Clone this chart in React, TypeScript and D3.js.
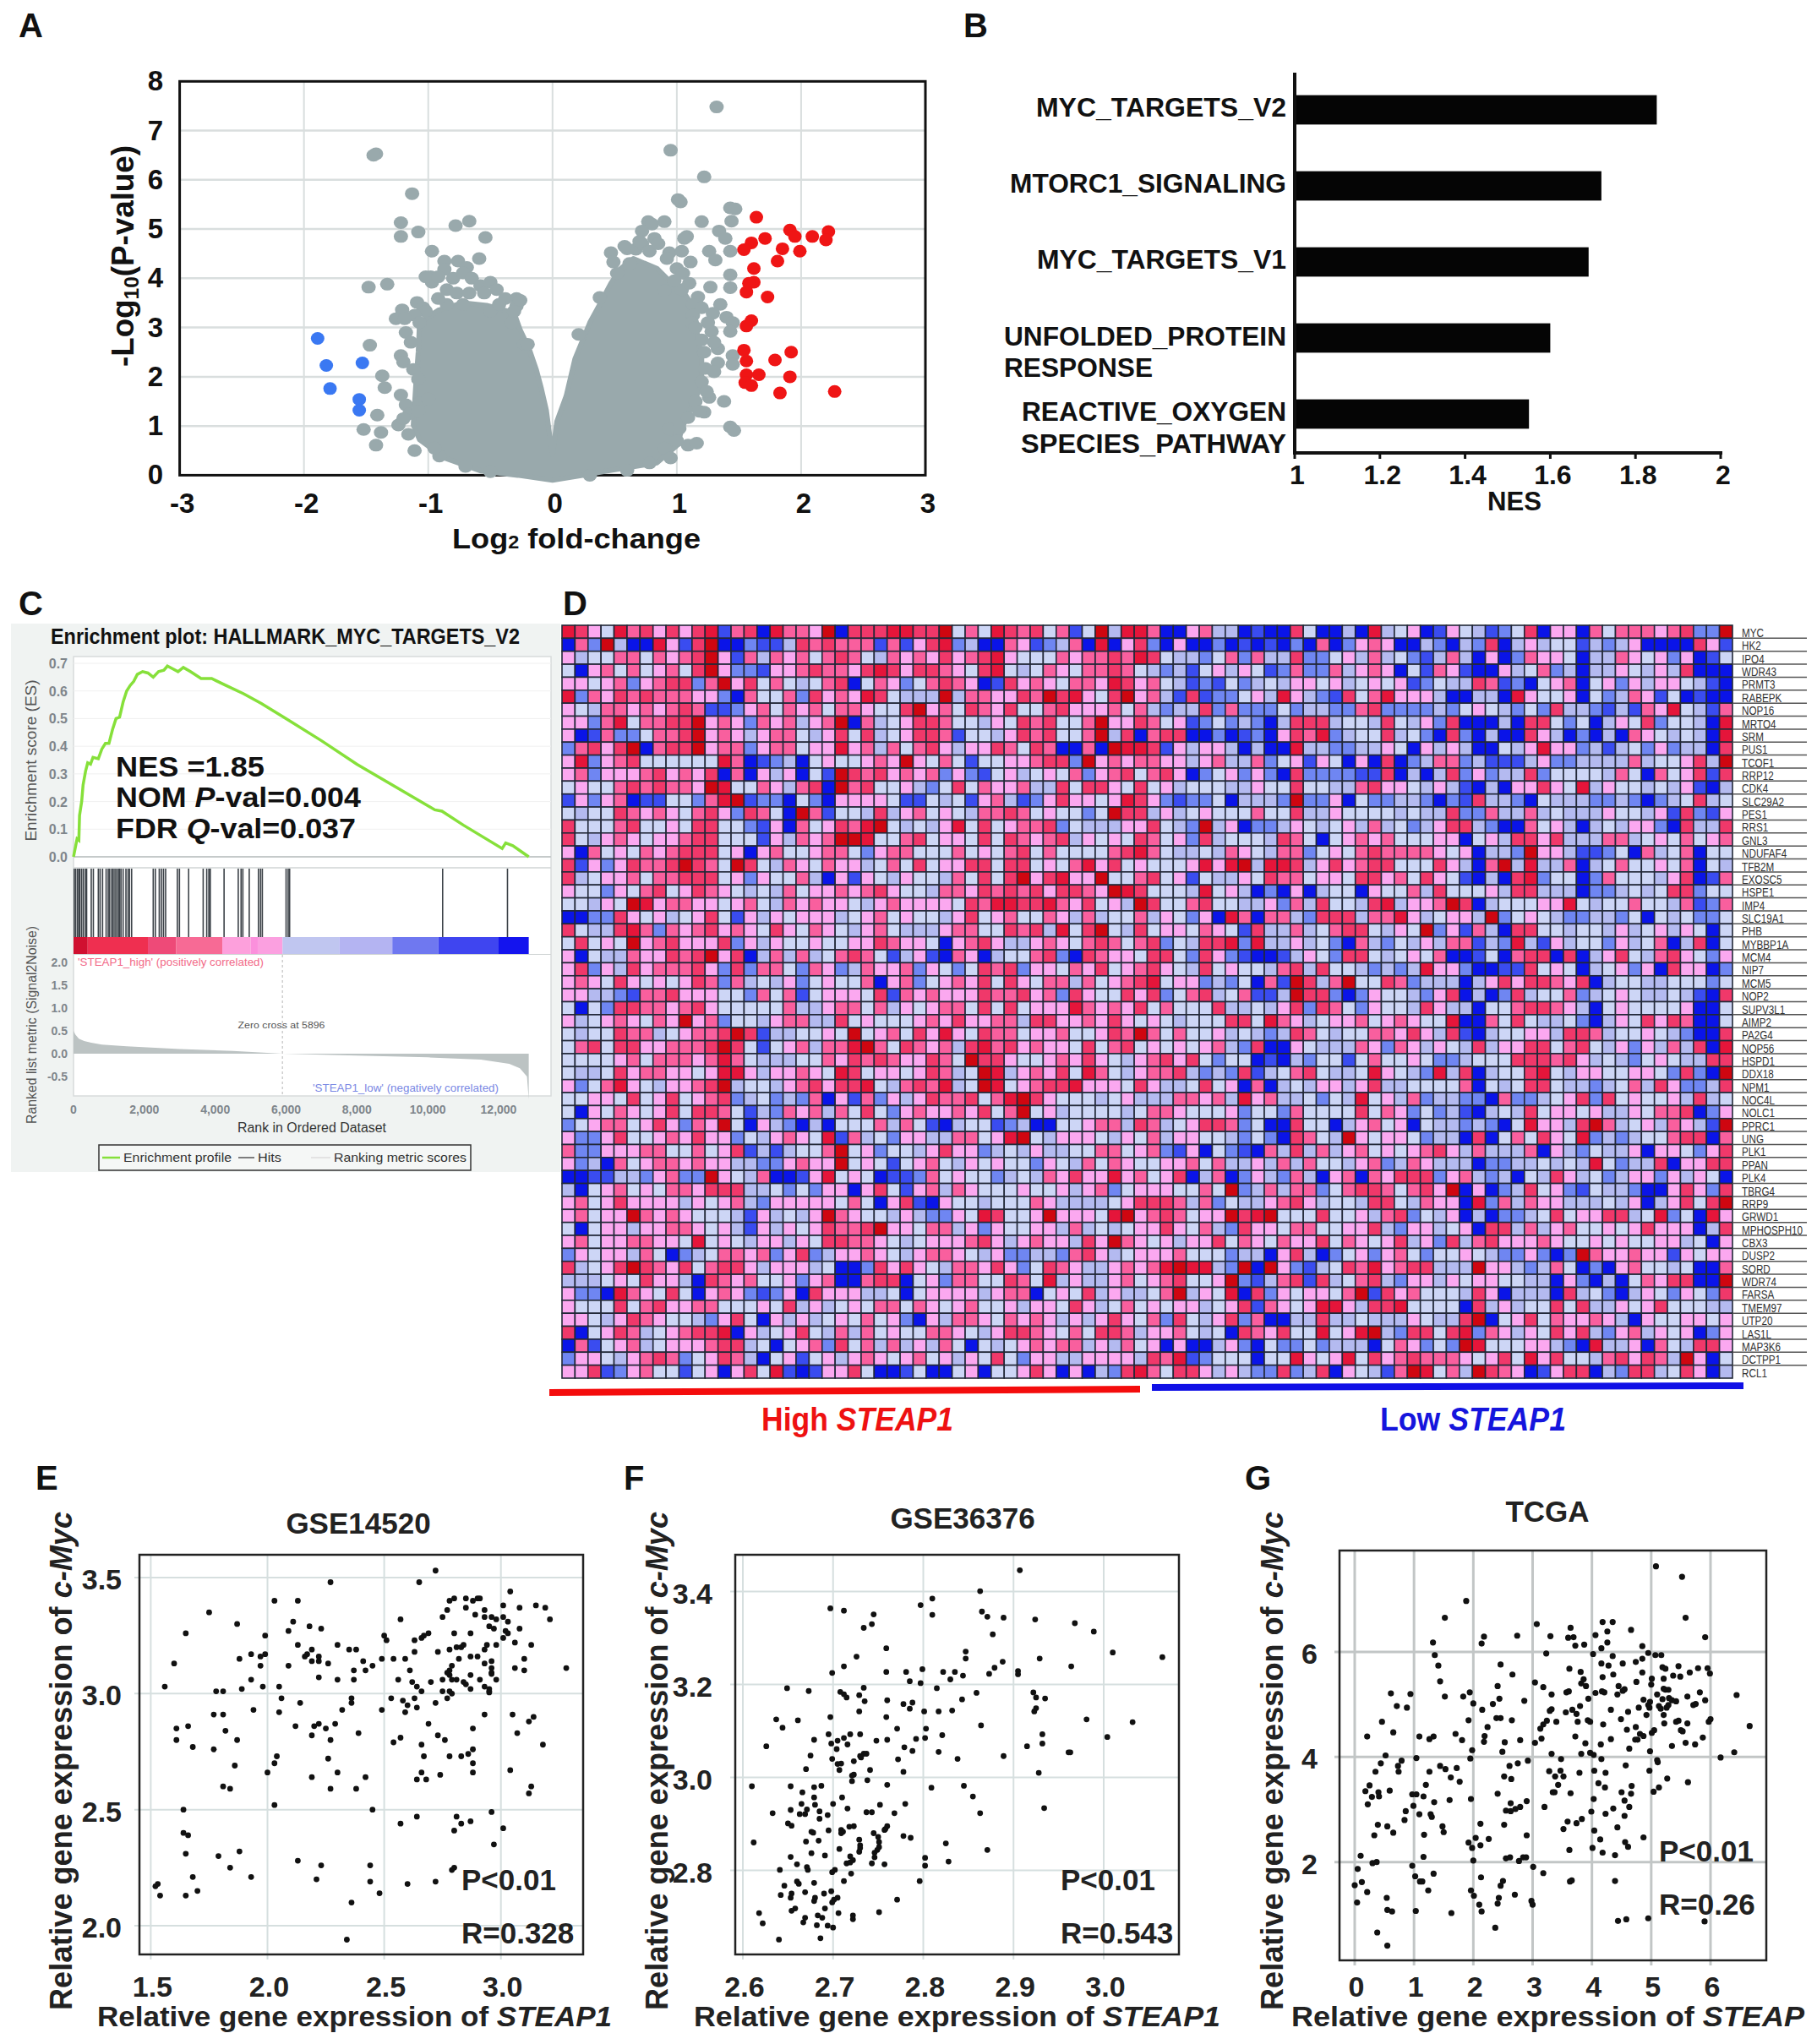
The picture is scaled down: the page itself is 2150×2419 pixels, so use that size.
import React from "react";
import * as d3 from "d3";

const FONT = "'Liberation Sans', Arial, sans-serif";

// A: volcano
const volcanoRed = [[1.64,5.24],[1.91,4.98],[1.95,4.85],[2.09,4.85],[2.22,4.95],[2.2,4.78],[1.71,4.81],[1.6,4.72],[1.54,4.58],[1.85,4.6],[1.99,4.55],[1.81,4.35],[1.62,4.2],[1.62,3.92],[1.58,3.9],[1.56,3.72],[1.73,3.62],[1.6,3.14],[1.56,3.03],[1.54,2.54],[1.92,2.5],[1.56,2.32],[1.79,2.34],[1.66,2.04],[1.56,2.04],[1.91,2.0],[1.55,1.88],[1.6,1.82],[2.27,1.7],[1.83,1.67]];
const volcanoBlue = [[-1.89,2.78],[-1.82,2.23],[-1.53,2.28],[-1.79,1.76],[-1.555,1.54],[-1.555,1.32]];
const volcanoGrey = [[1.32,7.48],[0.95,6.6],[1.22,6.06],[-1.42,6.53],[-1.44,6.5],[-1.13,5.72],[1.01,5.6],[1.03,5.55],[1.43,5.43],[1.47,5.41],[1.44,5.16],[1.2,5.15],[0.9,5.15],[0.77,5.15],[0.8,5.1],[1.34,4.96],[1.39,4.81],[1.08,4.85],[-1.22,5.13],[-1.22,4.85],[-1.08,4.94],[-0.78,5.07],[-0.67,5.16],[-0.54,4.83],[-0.97,4.55],[-0.59,4.4],[-0.87,4.35],[-0.76,4.35],[-0.69,4.22],[-1.48,3.82],[-1.33,3.88],[-0.98,4.03],
  [-1.21,3.36],[-1.26,3.18],[-1.09,3.51],[-1.04,3.4],[-0.29,3.59],[-0.29,3.44],[-0.5,3.33],[-0.33,3.1],[-0.23,2.66],[-0.2,2.66],[-1.22,2.43],[-1.47,2.64],[-1.37,2.02],[-1.35,1.78],[-1.22,1.63],[-1.18,1.43],[-1.07,1.47],[-1.41,1.22],[-1.24,1.02],[-1.52,0.93],[-1.38,0.87],[-1.42,0.61],[-1.11,0.5],[-0.91,0.39],[-1.16,0.83],
  [0.21,2.86],[0.38,3.61],[0.47,4.52],[0.49,4.33],[0.67,4.59],[0.72,4.96],[0.82,4.81],[1.06,4.81],[1.11,4.33],[0.94,4.52],[1.26,4.55],[1.31,4.37],[1.43,4.55],[1.43,4.07],[1.43,3.81],[1.27,3.82],[1.04,3.77],[1.17,3.62],[1.13,3.47],[1.35,3.47],[1.29,3.29],[1.4,3.21],[1.45,3.1],[1.13,3.25],[1.28,2.92],[1.43,2.92],[1.33,2.57],[1.45,2.43],[1.33,2.28],[1.23,2.17],[1.45,2.25],[1.26,1.58],[1.38,1.5],[1.22,1.28],[1.43,0.98],[1.46,0.91],[1.09,1.17],[1.09,0.61],[1.16,0.65],[0.94,0.94],
  [-0.87,4.18],[-0.8,4.0],[-0.72,4.11],[-0.65,4.0],[-0.58,3.85],[-0.5,3.92],[-0.45,3.77],[-0.85,3.77],[-0.97,3.92],[-1.02,4.03],[-0.92,4.03],[-0.77,3.7],[-0.67,3.7],[-0.55,3.7],[-0.38,3.59],[-0.26,3.55],[-0.43,3.47],[-0.31,3.33],[-0.85,3.47],[-0.72,3.47],[-1.02,3.33],[-1.11,3.25],[-1.19,3.18],[-1.07,3.1],[-0.92,3.59],
  [-1.18,2.9],[-1.14,2.7],[-1.2,2.3],[-1.12,2.15],[-1.08,1.95],[-1.15,1.25],[-1.2,1.15],[-1.08,1.3],[-1.0,1.55],
  [1.2,3.4],[1.25,3.1],[1.2,2.75],[1.3,2.7],[1.22,2.5],[1.3,2.1],[1.2,1.9],[1.24,1.7],[1.15,1.5],[1.18,1.3],[1.0,0.7],[0.9,0.55],[0.95,0.35],[0.78,0.25],[1.02,0.95],
  [0.52,4.1],[0.6,4.6],[0.62,4.3],[0.72,4.7],[0.78,4.55],[0.85,4.7],[0.92,4.4],[1.0,4.2],[1.04,4.55],[1.05,4.1],[0.98,3.95],[0.7,4.75],[0.58,4.65],[0.9,3.75],[1.1,3.9],[1.12,3.1],[1.15,3.0],
  [-0.7,0.18],[-0.5,0.07],[0.3,0],[0.6,0.1],[-0.95,0.55]];
// outline of the solid part of the cloud
const volcanoBody = [[-0.28,0],[-0.58,0.09],[-0.87,0.35],[-1.07,0.72],[-1.12,1.02],[-1.1,1.84],[-1.08,2.51],[-1.07,3.1],[-0.92,3.35],[-0.72,3.5],[-0.53,3.45],[-0.31,3.3],[-0.26,2.95],[-0.19,2.58],[-0.13,2.14],[-0.09,1.76],[-0.05,1.32],[-0.015,0.65],[0,0.42],[0.035,1.09],[0.11,1.61],[0.18,2.36],[0.3,3.1],[0.38,3.47],[0.47,3.9],[0.55,4.2],[0.65,4.4],[0.84,4.2],[0.94,3.95],[1.06,3.7],[1.14,3.4],[1.16,2.95],[1.2,2.36],[1.2,1.84],[1.05,1.0],[1.0,0.6],[0.84,0.25],[0.45,0.09],[0.25,0],[0,-0.1]];

// B: NES bars
const nesNames = ["MYC_TARGETS_V2","MTORC1_SIGNALING","MYC_TARGETS_V1","UNFOLDED_PROTEIN","REACTIVE_OXYGEN"];
const nesValues = [1.85,1.72,1.69,1.6,1.55];
const nesTicks = [1,1.2,1.4,1.6,1.8,2];

// C: enrichment plot
const esCurve = [[0,0],[100,0.065],[150,0.06],[170,0.15],[230,0.2],[270,0.26],[340,0.31],[400,0.34],[480,0.335],[550,0.36],[700,0.355],[800,0.39],[900,0.41],[1000,0.41],[1100,0.46],[1200,0.5],[1300,0.505],[1400,0.56],[1500,0.6],[1600,0.62],[1700,0.635],[1800,0.66],[1950,0.67],[2100,0.665],[2250,0.65],[2400,0.67],[2550,0.675],[2650,0.69],[2800,0.68],[2950,0.67],[3100,0.685],[3300,0.67],[3600,0.645],[3900,0.645],[4300,0.62],[4800,0.59],[5300,0.555],[6000,0.5],[7000,0.42],[8000,0.335],[9000,0.26],[10200,0.17],[10400,0.165],[11000,0.115],[12100,0.03],[12200,0.05],[12400,0.04],[12850,0]];
const hitRanks = [20,60,110,150,180,230,280,340,370,500,560,700,750,820,920,980,1020,1080,1120,1170,1220,1270,1300,1340,1400,1480,1540,1580,1640,2250,2310,2420,2480,2540,2600,2930,2990,3250,3660,3760,3820,3860,4250,4650,4730,4780,4960,5220,5280,5330,6000,6060,6100,10420,12250];
const rankBand = [[0,400,"#d01030"],[400,2100,"#ef2f50"],[2100,2900,"#ee4a78"],[2900,4200,"#f76a95"],[4200,5000,"#fda0dc"],[5000,5200,"#fb90dc"],[5200,5900,"#fba0e0"],[5900,7500,"#c0c6f0"],[7500,9000,"#b4b4f2"],[9000,10300,"#6f78f0"],[10300,12000,"#3f45f0"],[12000,12850,"#1414ee"]];
const rankMetric = [[0,0.5],[50,0.42],[150,0.33],[300,0.28],[500,0.24],[800,0.2],[1500,0.16],[3000,0.1],[4500,0.06],[5896,0],[8000,-0.04],[10000,-0.08],[11500,-0.13],[12300,-0.22],[12600,-0.32],[12800,-0.5],[12850,-1.0]];
const esTicks = [0,0.1,0.2,0.3,0.4,0.5,0.6,0.7];
const metricTicks = [2,1.5,1,0.5,0,-0.5];
const rankTicks = [0,2000,4000,6000,8000,10000,12000];

// D: heatmap, levels 0 (deep blue) to 9 (deep red)
const genes = ["MYC","HK2","IPO4","WDR43","PRMT3","RABEPK","NOP16","MRTO4","SRM","PUS1","TCOF1","RRP12","CDK4","SLC29A2","PES1","RRS1","GNL3","NDUFAF4","TFB2M","EXOSC5","HSPE1","IMP4","SLC19A1","PHB","MYBBP1A","MCM4","NIP7","MCM5","NOP2","SUPV3L1","AIMP2","PA2G4","NOP56","HSPD1","DDX18","NPM1","NOC4L","NOLC1","PPRC1","UNG","PLK1","PPAN","PLK4","TBRG4","RRP9","GRWD1","MPHOSPH10","CBX3","DUSP2","SORD","WDR74","FARSA","TMEM97","UTP20","LAS1L","MAP3K6","DCTPP1","RCL1"];
// first 48 columns of each row
const heatLeft = [
"8754867575 7816708665 9077788779 4648767461 49388600",
"0629300851 7900211376 7666161578 2300651236 08057205",
"5344664656 7951636564 6764365657 5678544465 66768743",
"4056464564 7952215567 6657875776 5478434654 66764323",
"5545625677 2695746434 6704652467 6501756546 65875643",
"8265767666 5520644627 5658743339 3665576978 54795631",
"5436656567 6112564656 4665447956 4765744675 55646323",
"5526846677 9565265635 6906345776 4435476744 69557645",
"5016224667 9565356643 5747345776 1443576744 69370677",
"2675790677 9566256645 5856364675 3557647600 60988715",
"5825674444 4486012304 5445659546 4144556772 95656655",
"5625556756 5706053504 1976756562 5214534546 25674675",
"4544676766 5984465367 0967445324 7465563374 77547453",
"1525601144 2689122042 0555541143 4156312575 54587521",
"4344765654 6752764096 1443735645 4366764544 24977353",
"7444674454 7744215064 5768943435 8474566724 33355743",
"7435654556 7744415365 6998446745 5474765673 54547645",
"5064546567 7745056445 6642566444 6454674644 44678643",
"7152576679 7649743654 6553464745 5774774546 85745444",
"7345564667 7745254463 0515435443 6474795785 59446745",
"5442546745 7654343645 5656754436 6576767577 65987444",
"4435498566 5545643656 5543565555 4768877865 74539744",
"0022754534 5741535455 5345645443 5745644653 63446354",
"7433786265 6756547546 5435643335 6644767384 79437455",
"4745495675 5572535445 4455765540 5675335654 67646724",
"5043365576 7957036363 4676413510 6503446720 76554774",
"5725375666 7527266426 5236556254 2476725546 57456754",
"5654754545 7626343524 5446056245 6574754663 64567845",
"5533216675 5544264614 5554716565 5576675627 54475724",
"4042776656 7544444633 5664635456 6474745558 65657464",
"5345654659 5624435663 3745444565 7556637755 65754543",
"4344766345 6679713344 5494564758 5476645564 45769646",
"4674775566 6797414563 6689647656 3786756554 74674545",
"4444564666 5686433344 6576765576 4977544565 75435675",
"4334756655 4588535565 4874554576 3498356574 86435667",
"5246854355 6793443567 5778436768 3498456778 55547533",
"4455474574 5672342326 0516253576 6746897544 43453336",
"4054654574 7764132656 3647425655 6574694534 44434665",
"2456645752 6594053203 0444636410 3441230044 56637634",
"5225744565 7552435654 8163425533 6645894355 54354635",
"6225556644 6457131344 6945244357 5523435334 46645621",
"5230645665 6553322565 5945414564 3545442543 64654455",
"0011332562 2954360015 8454011264 5442343657 55856457",
"3045645466 5777334242 5505741563 6544454453 56245554",
"5645755553 5456325555 5464057105 4434446533 33457776",
"5645596565 4443153435 9654435322 5487445955 54895676",
"4045535566 5453153545 7667955466 3525445536 34345575",
"5645566554 8454355354 7766543455 5675356553 75965453",
"2545536402 3466562572 3556543566 5435223326 75345556",
"7345797657 4677535553 4002757543 6657524765 33565689",
"3334547553 0765644525 6006770452 6644764835 33564567",
"5220865474 0565212507 5553340455 5535660454 73533469",
"5444746755 6644454735 3454664654 5644535547 53464545",
"5543576544 3257405353 4546452053 6654656535 35754627",
"7045763456 7780534574 3636454466 5435776546 47763556",
"0614563455 5677340456 2746363536 4043456566 35364505",
"2554356762 4576304514 5356545645 3547425533 55553768",
"5571256441 4505748101 5574001400 4504457505 03278647"
];
// last 42 columns of each row
const heatRight = [
"5633010074 0030834501 5431247055 0646665672 29",
"0020101020 6025650032 0327035344 1323500007 51",
"3246263372 2453634213 6305026554 0336545250 14",
"1453541262 2635650416 5100534623 0335435370 00",
"1214234355 4534545124 3376120456 0452535543 10",
"7122453853 2174685553 0033085445 0423651401 00",
"3726222423 3226722223 2454324273 3213165843 16",
"1242320377 7344374352 7000307742 4035472443 08",
"0020120576 8234473420 7203007530 2030654343 08",
"3553030083 3223354053 5300435855 2313425233 07",
"3563362451 5405070236 6231113522 3333634457 39",
"0245252072 2221170303 7252337244 4436406457 17",
"4443354474 4336755435 3103055754 8354434351 03",
"2240333292 2504223320 2173320433 3223202347 34",
"4544464473 3544443433 7226336343 3354435172 15",
"2935022354 3453634235 7732006453 0343552073 37",
"2734443764 0456564445 5045377573 3366345464 56",
"3436543662 4546766665 4503329553 1124063460 44",
"5858938873 5756774447 5306938336 0346445460 43",
"1433547664 5547756475 4103078244 0264443570 16",
"3845302050 3440544637 4445377333 0223434772 44",
"6744335263 7443783556 9703444558 4344644361 26",
"2508606632 7773668534 5539245432 2332404342 24",
"4654173363 4677435492 5163077443 4435345354 04",
"3778283353 4206324353 6613283153 4425346037 04",
"2752100135 4277434546 0014067707 0357436754 25",
"3745443673 7443232385 5200117454 0345250755 02",
"5232406197 3694476233 3035757765 7034433444 24",
"6734611397 7202544325 7030273446 2345433431 07",
"4473343572 7642544375 3304467765 3045444450 04",
"4447748653 4556456544 8006474334 2035475760 04",
"4453432376 4344665753 7103445537 7634454320 07",
"4563270054 3336526535 4373557746 7435253637 08",
"7424401032 4414644542 2344477767 5343245433 77",
"3232713467 4334854328 3703447843 5544554272 09",
"4745060343 5535733444 4604347743 3234637522 37",
"6563856334 2438453623 3220622345 7274544537 34",
"4445244264 4447465242 3103437455 4533546670 25",
"5776240074 4035645043 3232048553 7963453653 19",
"5443242076 4395455423 3070464754 8232344677 06",
"5042106373 6356454567 5363336053 2433505542 57",
"6463353636 4435623653 3302233434 3842337055 77",
"0360253263 0560657772 5632304375 3423552535 40",
"4649236366 2467764675 9050237452 1433200575 27",
"3624335675 3443774365 5082636553 3343503574 79",
"4559789444 7445367243 5030223474 5577348240 85",
"4632755466 4455732553 4507736356 4454575550 37",
"5574654655 7465457352 7367555654 4545445534 05",
"4442330573 0245256424 4543225202 9655655154 55",
"8832909521 3476856773 3395532364 0205644340 06",
"4459213671 7346732553 5455443305 2030465770 09",
"3548072545 5469175644 4375033307 3420354254 27",
"5345716545 8853778444 4073534474 7335457444 33",
"4357260033 7334333543 3790457465 5653054455 45",
"4340765744 8458932774 7826535475 7325635450 25",
"0035204224 2333046524 2984445532 0833506437 75",
"1244404485 4584756766 6545748574 4367576395 04",
"7535322723 7054316984 6397650157 7032773475 03"
];
const heatRows = heatLeft.map((row, i) => (row + heatRight[i]).replace(/ /g, "").padEnd(90, "4").slice(0, 90));
const heatColors = ["#0a14e8","#3a4cf0","#6f86f2","#b4baf0","#cdd6f6","#fba8f0","#f95f9e","#f0386a","#e5153a","#cf0610"];

// E, F, G: STEAP1 against c-Myc
const gse14520 = [[2.72,3.53],[2.65,3.48],[2.27,3.48],[3.04,3.44],[2.03,3.40],[2.13,3.40],[2.78,3.40],[2.80,3.41],[2.85,3.41],[2.88,3.40],[2.90,3.41],[2.91,3.41],[3.15,3.38],[3.19,3.37],[3.01,3.38],[3.08,3.37],[2.77,3.36],[2.85,3.37],[2.93,3.36],[1.75,3.35],[2.75,3.33],[2.89,3.34],[2.93,3.33],[2.96,3.33],[2.98,3.32],[3.01,3.33],[3.03,3.31],[3.21,3.32],[2.57,3.32],[2.11,3.31],[1.87,3.30],[2.18,3.29],[2.23,3.28],[2.95,3.29],[2.97,3.28],[3.08,3.28],[3.02,3.27],[3.03,3.26],[1.65,3.26],[2.09,3.27],[1.99,3.25],[2.69,3.26],[2.67,3.25],[2.66,3.24],[2.80,3.26],[2.87,3.26],[2.50,3.25],[2.51,3.23],[2.63,3.23],[3.06,3.22],[3.01,3.24],[3.13,3.21],[2.13,3.21],[2.30,3.21],[2.35,3.19],[2.38,3.19],[2.78,3.19],[2.81,3.20],[2.83,3.20],[2.84,3.21],[2.94,3.21],[2.93,3.19],[2.98,3.21],[2.63,3.18],[2.73,3.18],[2.19,3.19],[2.17,3.17],[2.16,3.16],[2.22,3.16],[1.93,3.17],[1.97,3.16],[1.99,3.17],[1.88,3.15],[3.10,3.15],[2.87,3.16],[2.90,3.16],[2.82,3.15],[2.96,3.14],[2.93,3.13],[1.60,3.13],[2.19,3.14],[2.22,3.14],[2.26,3.13],[2.41,3.14],[2.42,3.10],[2.45,3.12],[2.49,3.15],[2.54,3.15],[2.59,3.15],[2.09,3.12],[1.97,3.12],[3.06,3.11],[3.10,3.10],[3.28,3.11],[2.37,3.10],[2.61,3.10],[2.79,3.12],[2.78,3.10],[2.77,3.09],[2.96,3.11],[2.96,3.09],[2.96,3.085],[2.78,3.08],[2.87,3.08],[2.75,3.06],[2.79,3.06],[2.81,3.06],[2.84,3.05],[2.85,3.04],[2.91,3.06],[2.98,3.06],[2.93,3.03],[2.95,3.02],[2.95,3.01],[1.93,3.06],[2.22,3.07],[2.30,3.06],[2.37,3.06],[2.56,3.06],[2.62,3.05],[1.56,3.03],[2.05,3.03],[2.70,3.05],[1.98,3.03],[1.89,3.02],[1.78,3.01],[1.81,3.01],[2.64,3.03],[2.66,3.01],[2.75,3.01],[2.78,3.01],[2.79,3.00],[2.77,2.98],[2.87,3.02],[2.95,3.005],[2.53,2.98],[2.36,2.98],[2.36,2.96],[2.06,2.98],[2.14,2.96],[2.58,2.97],[2.60,2.95],[2.63,2.98],[2.64,2.94],[2.72,2.96],[2.32,2.93],[2.49,2.93],[2.59,2.92],[1.94,2.93],[1.77,2.91],[1.81,2.91],[2.05,2.92],[2.93,2.91],[3.05,2.91],[3.14,2.90],[3.12,2.88],[2.69,2.87],[2.88,2.85],[1.66,2.86],[2.12,2.86],[2.20,2.86],[2.22,2.87],[2.29,2.87],[2.25,2.85],[1.61,2.85],[1.82,2.84],[2.39,2.83],[3.07,2.83],[2.19,2.82],[2.73,2.82],[2.76,2.80],[2.27,2.80],[1.61,2.80],[1.87,2.80],[2.57,2.81],[2.54,2.79],[1.68,2.77],[1.77,2.76],[2.66,2.78],[3.18,2.78],[2.67,2.73],[2.78,2.73],[2.83,2.73],[2.86,2.74],[2.88,2.76],[2.04,2.73],[2.03,2.70],[2.26,2.72],[1.86,2.69],[2.88,2.70],[2.88,2.66],[2.66,2.66],[2.74,2.65],[3.04,2.67],[2.00,2.66],[2.30,2.66],[2.19,2.64],[2.42,2.64],[2.64,2.63],[2.68,2.63],[1.81,2.60],[1.84,2.59],[2.27,2.59],[2.38,2.59],[3.13,2.60],[3.12,2.57],[2.03,2.52],[1.64,2.50],[2.45,2.50],[2.96,2.49],[2.64,2.47],[2.81,2.47],[2.87,2.45],[2.83,2.44],[2.57,2.44],[1.64,2.40],[1.66,2.39],[2.80,2.41],[3.01,2.42],[2.97,2.35],[1.88,2.32],[1.65,2.31],[1.79,2.30],[2.13,2.28],[2.23,2.26],[1.84,2.25],[2.44,2.26],[2.79,2.24],[2.80,2.25],[1.93,2.21],[1.68,2.21],[2.21,2.20],[2.44,2.19],[2.72,2.19],[2.60,2.18],[1.53,2.18],[1.52,2.17],[1.70,2.15],[1.65,2.13],[1.54,2.13],[2.48,2.14],[2.36,2.10],[2.34,1.94]];

const gse36376 = [[2.907,3.446],[2.863,3.401],[2.81,3.385],[2.797,3.371],[2.81,3.35],[2.697,3.364],[2.712,3.359],[2.745,3.351],[2.743,3.33],[2.734,3.322],[2.865,3.357],[2.871,3.346],[2.889,3.344],[2.924,3.34],[2.968,3.332],[2.989,3.314],[2.877,3.308],[2.759,3.278],[2.847,3.271],[2.847,3.256],[3.01,3.269],[2.929,3.256],[3.065,3.259],[2.726,3.26],[2.964,3.239],[2.712,3.239],[2.759,3.227],[2.781,3.227],[2.799,3.233],[2.822,3.227],[2.835,3.227],[2.844,3.219],[2.83,3.211],[2.873,3.223],[2.879,3.236],[2.888,3.249],[2.905,3.229],[2.905,3.222],[2.699,3.225],[2.785,3.207],[2.797,3.203],[2.649,3.192],[2.673,3.186],[2.734,3.193],[2.815,3.192],[2.708,3.184],[2.712,3.179],[2.715,3.172],[2.729,3.177],[2.735,3.164],[2.76,3.166],[2.778,3.158],[2.788,3.161],[2.785,3.148],[2.843,3.168],[2.859,3.182],[2.922,3.183],[2.925,3.172],[2.935,3.17],[2.925,3.149],[2.923,3.142],[2.729,3.142],[2.801,3.142],[2.817,3.142],[2.832,3.144],[2.697,3.13],[2.759,3.13],[2.637,3.125],[2.661,3.123],[2.644,3.107],[2.981,3.125],[3.032,3.119],[2.771,3.105],[2.864,3.112],[2.803,3.105],[2.695,3.093],[2.712,3.085],[2.719,3.093],[2.73,3.093],[2.626,3.067],[2.679,3.081],[2.705,3.079],[2.698,3.073],[2.716,3.071],[2.704,3.061],[2.748,3.079],[2.76,3.081],[2.792,3.083],[2.802,3.085],[2.821,3.091],[2.932,3.093],[2.932,3.073],[3.004,3.087],[2.915,3.067],[2.779,3.065],[2.788,3.057],[2.817,3.055],[2.73,3.046],[2.734,3.051],[2.737,3.051],[2.731,3.043],[2.675,3.047],[2.699,3.04],[2.772,3.039],[2.838,3.04],[2.889,3.046],[2.961,3.054],[2.963,3.054],[2.705,3.029],[2.709,3.03],[2.723,3.035],[2.707,3.016],[2.741,3.016],[2.67,3.018],[2.778,3.012],[2.928,3.01],[2.721,3.004],[2.723,3.006],[2.721,2.992],[2.738,2.994],[2.61,2.981],[2.653,2.981],[2.679,2.979],[2.687,2.982],[2.76,2.984],[2.809,2.978],[2.845,2.982],[2.666,2.968],[2.679,2.957],[2.71,2.957],[2.855,2.959],[2.934,2.934],[2.665,2.943],[2.7,2.943],[2.68,2.941],[2.716,2.933],[2.752,2.941],[2.78,2.943],[2.671,2.931],[2.653,2.93],[2.685,2.927],[2.737,2.925],[2.743,2.925],[2.633,2.923],[2.663,2.921],[2.669,2.921],[2.694,2.919],[2.768,2.923],[2.863,2.923],[2.685,2.911],[2.65,2.901],[2.654,2.896],[2.695,2.886],[2.709,2.887],[2.711,2.883],[2.718,2.894],[2.723,2.895],[2.758,2.889],[2.76,2.895],[2.757,2.887],[2.676,2.883],[2.678,2.881],[2.745,2.88],[2.75,2.872],[2.709,2.88],[2.778,2.874],[2.786,2.87],[2.612,2.86],[2.67,2.862],[2.684,2.864],[2.729,2.866],[2.73,2.854],[2.73,2.848],[2.751,2.861],[2.751,2.85],[2.825,2.858],[2.707,2.846],[2.749,2.844],[2.746,2.838],[2.729,2.84],[2.676,2.837],[2.691,2.832],[2.653,2.829],[2.719,2.83],[2.871,2.844],[2.802,2.827],[2.746,2.828],[2.722,2.822],[2.715,2.815],[2.66,2.813],[2.719,2.817],[2.743,2.815],[2.757,2.813],[2.802,2.81],[2.828,2.819],[2.671,2.807],[2.672,2.801],[2.641,2.801],[2.699,2.796],[2.702,2.801],[2.72,2.793],[2.712,2.777],[2.66,2.776],[2.662,2.771],[2.679,2.773],[2.646,2.767],[2.796,2.777],[2.669,2.753],[2.642,2.747],[2.654,2.75],[2.653,2.741],[2.69,2.75],[2.698,2.755],[2.701,2.737],[2.705,2.741],[2.68,2.741],[2.679,2.734],[2.771,2.737],[2.699,2.731],[2.691,2.718],[2.658,2.718],[2.654,2.713],[2.751,2.71],[2.706,2.708],[2.618,2.708],[2.683,2.703],[2.669,2.698],[2.688,2.698],[2.722,2.703],[2.722,2.695],[2.667,2.688],[2.622,2.686],[2.682,2.682],[2.694,2.681],[2.7,2.677],[2.686,2.654],[2.64,2.651]];

const tcga = [[5.08,7.63],[5.52,7.43],[1.88,6.97],[5.58,6.65],[1.52,6.65],[4.35,6.57],[4.18,6.57],[3.07,6.53],[4.66,6.42],[3.64,6.46],[4.26,6.39],[3.30,6.30],[2.74,6.31],[4.06,6.32],[5.91,6.28],[3.60,6.27],[3.69,6.28],[3.87,6.14],[4.26,6.18],[2.18,6.29],[2.14,6.16],[3.72,6.12],[4.85,6.11],[4.16,6.07],[1.32,6.18],[3.23,5.97],[1.35,5.94],[4.02,5.96],[4.35,5.92],[4.95,5.98],[5.07,5.94],[5.17,5.94],[2.46,5.76],[1.41,5.74],[4.85,5.87],[4.74,5.81],[4.52,5.78],[4.16,5.78],[4.28,5.74],[5.46,5.73],[5.19,5.71],[5.24,5.68],[5.79,5.69],[5.95,5.69],[3.62,5.68],[3.81,5.62],[5.65,5.61],[5.99,5.59],[5.37,5.55],[5.49,5.53],[4.36,5.57],[4.18,5.52],[2.66,5.57],[4.85,5.61],[4.75,5.43],[5.01,5.49],[5.21,5.49],[1.44,5.44],[3.04,5.42],[3.82,5.40],[3.86,5.48],[3.90,5.35],[4.45,5.35],[2.41,5.35],[3.18,5.33],[4.55,5.29],[5.24,5.28],[5.29,5.28],[5.00,5.38],[5.21,5.30],[3.57,5.23],[3.61,5.25],[3.32,5.19],[4.17,5.25],[4.21,5.23],[4.43,5.19],[4.52,5.26],[5.82,5.23],[5.61,5.15],[0.61,5.21],[0.94,5.20],[1.94,5.23],[1.83,5.15],[1.52,5.15],[2.44,5.11],[3.94,5.11],[4.06,5.22],[5.10,5.19],[5.19,5.10],[5.30,5.12],[5.35,5.08],[5.42,5.06],[5.91,5.08],[6.44,5.18],[2.86,5.07],[4.87,5.09],[2.00,5.02],[2.33,5.01],[0.71,4.97],[0.88,4.94],[4.98,5.05],[4.95,4.99],[5.13,4.97],[5.29,4.99],[5.71,4.99],[5.75,5.01],[4.32,4.90],[3.32,4.91],[3.29,4.88],[4.79,4.94],[2.15,4.90],[4.61,4.86],[4.97,4.94],[5.16,4.92],[5.26,4.94],[3.56,4.85],[3.67,4.90],[3.74,4.82],[3.80,4.97],[4.92,4.80],[5.21,4.80],[5.46,4.69],[6.00,4.72],[5.97,4.67],[5.42,4.67],[1.92,4.70],[2.39,4.74],[2.46,4.74],[2.65,4.70],[3.24,4.69],[3.18,4.62],[3.40,4.67],[3.93,4.70],[3.97,4.67],[3.76,4.67],[4.19,4.62],[4.49,4.72],[5.22,4.64],[5.61,4.64],[6.66,4.59],[0.46,4.67],[3.13,4.54],[2.24,4.57],[4.59,4.52],[4.74,4.57],[5.05,4.51],[5.01,4.46],[5.50,4.51],[5.53,4.49],[1.70,4.44],[0.65,4.47],[0.21,4.39],[1.09,4.39],[1.26,4.34],[1.33,4.39],[3.15,4.35],[3.72,4.39],[5.87,4.37],[4.81,4.44],[4.87,4.40],[4.77,4.33],[4.73,4.33],[1.81,4.32],[2.19,4.40],[2.18,4.29],[2.53,4.28],[2.79,4.32],[3.04,4.27],[4.32,4.34],[3.89,4.26],[4.15,4.24],[5.35,4.21],[5.58,4.27],[5.74,4.24],[4.63,4.16],[1.98,4.13],[2.49,4.10],[4.98,4.11],[0.52,4.03],[6.17,3.99],[6.40,4.09],[3.32,4.06],[3.48,3.96],[3.82,4.06],[3.97,4.08],[4.03,4.04],[4.16,3.96],[1.95,3.97],[1.04,3.98],[0.79,3.93],[0.44,3.88],[2.92,3.93],[0.73,3.83],[5.11,3.90],[5.10,3.94],[4.57,3.84],[1.44,3.83],[1.53,3.77],[1.72,3.79],[2.61,3.83],[2.75,3.88],[0.35,3.72],[0.74,3.72],[1.26,3.72],[3.28,3.73],[3.47,3.74],[3.79,3.70],[4.04,3.74],[4.23,3.70],[2.64,3.58],[1.62,3.61],[2.52,3.63],[3.38,3.63],[3.52,3.63],[4.97,3.74],[5.27,3.59],[1.77,3.53],[5.62,3.52],[1.20,3.47],[4.11,3.50],[4.67,3.45],[3.43,3.47],[4.22,3.42],[5.13,3.42],[0.25,3.46],[0.18,3.35],[5.04,3.34],[0.97,3.29],[0.40,3.33],[0.41,3.25],[0.59,3.36],[2.41,3.30],[1.96,3.20],[3.37,3.33],[3.34,3.33],[3.64,3.31],[1.16,3.25],[4.66,3.30],[4.50,3.33],[0.29,3.24],[1.04,3.29],[1.60,3.18],[4.03,3.20],[1.34,3.14],[4.55,3.17],[0.22,3.10],[2.90,3.16],[2.63,3.12],[2.79,3.05],[2.71,3.01],[2.55,2.98],[2.63,2.97],[3.20,3.05],[4.63,3.05],[0.99,3.07],[0.86,2.97],[3.99,2.96],[4.36,3.02],[1.09,2.91],[1.28,2.91],[4.23,2.92],[1.30,2.86],[4.55,2.88],[0.84,2.80],[0.39,2.71],[1.48,2.68],[1.50,2.57],[2.52,2.71],[2.12,2.73],[3.59,2.77],[3.74,2.74],[3.83,2.82],[4.43,2.66],[0.55,2.68],[0.65,2.56],[0.33,2.51],[3.52,2.63],[1.17,2.52],[4.04,2.60],[2.90,2.51],[4.14,2.43],[4.87,2.47],[2.26,2.44],[2.04,2.46],[1.92,2.37],[2.12,2.32],[1.98,2.27],[4.56,2.38],[4.61,2.29],[3.62,2.23],[4.01,2.27],[4.18,2.18],[4.39,2.13],[0.10,2.12],[1.16,2.10],[2.55,2.07],[2.62,2.09],[2.77,2.02],[2.84,2.09],[2.89,2.09],[2.00,2.03],[0.30,1.98],[0.37,2.00],[0.97,1.93],[0.05,1.87],[3.01,1.91],[1.33,1.78],[3.18,1.79],[1.02,1.73],[1.10,1.63],[1.14,1.63],[2.13,1.71],[3.63,1.63],[3.66,1.65],[4.39,1.64],[0.12,1.62],[0,1.56],[2.50,1.64],[2.46,1.55],[0.21,1.43],[1.24,1.46],[1.96,1.46],[2.01,1.36],[2.70,1.38],[0.04,1.23],[0.54,1.32],[2.43,1.32],[2.41,1.21],[2.98,1.26],[3.00,1.19],[2.10,1.19],[0.55,1.09],[0.63,1.06],[1.03,1.07],[2.14,1.06],[1.63,1.03],[4.95,0.93],[4.58,0.91],[4.44,0.88],[5.90,0.87],[2.37,0.75],[0.38,0.66],[0.55,0.41]];

function Txt({ x, y, size, weight = "bold", fill = "#111", anchor = "start", rotate = 0, len, children }: any) {
  return (
    <text
      x={rotate ? 0 : x}
      y={rotate ? 0 : y}
      transform={rotate ? `translate(${x},${y}) rotate(${rotate})` : undefined}
      fontFamily={FONT}
      fontSize={size}
      fontWeight={weight}
      fill={fill}
      textAnchor={anchor}
      textLength={len}
      lengthAdjust={len ? "spacingAndGlyphs" : undefined}
    >
      {children}
    </text>
  );
}

function Volcano() {
  const x = d3.scaleLinear().domain([-3, 3]).range([212.6, 1095]);
  const y = d3.scaleLinear().domain([0, 8]).range([562.4, 96.3]);
  const body = d3.line().x((d: any) => x(d[0])).y((d: any) => y(d[1])).curve(d3.curveLinearClosed);
  return (
    <g>
      <rect x={x(-3)} y={y(8)} width={x(3) - x(-3)} height={y(0) - y(8)} fill="#fff" />
      {d3.range(-2, 3).map((t) => <line key={t} x1={x(t)} x2={x(t)} y1={y(8)} y2={y(0)} stroke="#d9dede" strokeWidth={2} />)}
      {d3.range(1, 8).map((t) => <line key={t} x1={x(-3)} x2={x(3)} y1={y(t)} y2={y(t)} stroke="#d9dede" strokeWidth={2.5} />)}
      <rect x={x(-3)} y={y(8)} width={x(3) - x(-3)} height={y(0) - y(8)} fill="none" stroke="#111" strokeWidth={3} />
      <path d={body(volcanoBody as any) as string} fill="#99a9ac" stroke="#99a9ac" strokeWidth={6} strokeLinejoin="round" />
      {volcanoGrey.map((d, i) => <ellipse key={i} cx={x(d[0])} cy={y(d[1])} rx={8.5} ry={7.5} fill="#99a9ac" />)}
      {volcanoRed.map((d, i) => <ellipse key={i} cx={x(d[0])} cy={y(d[1])} rx={8} ry={7.5} fill="#ef1515" />)}
      {volcanoBlue.map((d, i) => <ellipse key={i} cx={x(d[0])} cy={y(d[1])} rx={8} ry={7.5} fill="#3a78f2" />)}
      {d3.range(-3, 4).map((t) => <Txt key={t} x={x(t) + 3} y={607} size={33} anchor="middle">{t}</Txt>)}
      {d3.range(0, 9).map((t) => <Txt key={t} x={193} y={y(t) + 11} size={33} anchor="end">{t}</Txt>)}
      <Txt x={682} y={649} size={34} anchor="middle" len={294}>Log<tspan fontSize={22}>2</tspan> fold-change</Txt>
      <Txt x={158} y={434} size={36} rotate={-90} len={262}>-Log<tspan fontSize={24} dy={6}>10</tspan><tspan dy={-6}>(P-value)</tspan></Txt>
    </g>
  );
}

function NesBars() {
  const x = d3.scaleLinear().domain([1, 2]).range([1532, 2036]);
  const y = d3.scaleBand().domain(nesNames).range([85, 535]).paddingInner(0.614).paddingOuter(0.307);
  const axisY = 536;
  return (
    <g>
      {nesNames.map((n, i) => <rect key={n} x={x(1)} y={y(n)} width={x(nesValues[i]) - x(1)} height={y.bandwidth()} fill="#050505" />)}
      <line x1={x(1)} x2={x(1)} y1={86} y2={axisY + 2} stroke="#111" strokeWidth={4} />
      <line x1={x(1) - 2} x2={x(2) + 2} y1={axisY} y2={axisY} stroke="#111" strokeWidth={4} />
      {nesTicks.map((t) => (
        <g key={t}>
          <line x1={x(t)} x2={x(t)} y1={axisY} y2={axisY + 7} stroke="#111" strokeWidth={3} />
          <Txt x={x(t) + 3} y={573} size={32} anchor="middle">{t}</Txt>
        </g>
      ))}
      <Txt x={1792} y={604} size={32} anchor="middle" len={64}>NES</Txt>
      <Txt x={1522} y={138} size={32} anchor="end" len={296}>MYC_TARGETS_V2</Txt>
      <Txt x={1522} y={228} size={32} anchor="end" len={327}>MTORC1_SIGNALING</Txt>
      <Txt x={1522} y={318} size={32} anchor="end" len={295}>MYC_TARGETS_V1</Txt>
      <Txt x={1188} y={409} size={32} len={334}>UNFOLDED_PROTEIN</Txt>
      <Txt x={1188} y={446} size={32} len={176}>RESPONSE</Txt>
      <Txt x={1522} y={498} size={32} anchor="end" len={313}>REACTIVE_OXYGEN</Txt>
      <Txt x={1522} y={536} size={32} anchor="end" len={314}>SPECIES_PATHWAY</Txt>
    </g>
  );
}

function Enrichment() {
  const x = d3.scaleLinear().domain([0, 12000]).range([87, 590]);
  const yEs = d3.scaleLinear().domain([0, 0.7]).range([1014, 785]);
  const yMetric = d3.scaleLinear().domain([0, 2]).range([1247, 1139]);
  const left = 87, right = 652;
  const esLine = d3.line().x((d: any) => x(d[0])).y((d: any) => yEs(d[1]));
  const metricArea = d3.area().x((d: any) => x(d[0])).y0(yMetric(0)).y1((d: any) => yMetric(d[1]));
  const grey = "#7f868c";
  return (
    <g>
      <rect x={13} y={738} width={650} height={649} fill="#f0f3f2" />
      <Txt x={60} y={762} size={25} len={555}>Enrichment plot: HALLMARK_MYC_TARGETS_V2</Txt>
      <rect x={left} y={777} width={right - left} height={520} fill="#fff" stroke="#d8dcdc" strokeWidth={1.5} />
      {esTicks.map((t) => (
        <g key={t}>
          <line x1={left} x2={right} y1={yEs(t)} y2={yEs(t)} stroke={t === 0 ? "#c5caca" : "#f0f0f0"} strokeWidth={t === 0 ? 2 : 1} />
          <Txt x={80} y={yEs(t) + 6} size={16} fill={grey} anchor="end">{t.toFixed(1)}</Txt>
        </g>
      ))}
      <line x1={left} x2={right} y1={1027} y2={1027} stroke="#d0d4d4" strokeWidth={1.5} />
      <path d={esLine(esCurve as any) as string} fill="none" stroke="#86e03a" strokeWidth={3.5} />
      <Txt x={43} y={900} size={19} weight="normal" fill="#555" anchor="middle" rotate={-90}>Enrichment score (ES)</Txt>
      <Txt x={137} y={919} size={34} len={176}>NES =1.85</Txt>
      <Txt x={137} y={955} size={34} len={290}>NOM <tspan fontStyle="italic">P</tspan>-val=0.004</Txt>
      <Txt x={137} y={992} size={34} len={284}>FDR <tspan fontStyle="italic">Q</tspan>-val=0.037</Txt>

      {hitRanks.map((r) => <line key={r} x1={x(r)} x2={x(r)} y1={1028} y2={1109} stroke="#3c4248" strokeWidth={1.6} />)}
      {rankBand.map((b: any) => <rect key={b[0]} x={x(b[0])} y={1109} width={x(b[1]) - x(b[0])} height={20} fill={b[2]} />)}
      <line x1={left} x2={right} y1={1129.5} y2={1129.5} stroke="#d0d4d4" strokeWidth={1} />
      <line x1={x(5896)} x2={x(5896)} y1={1130} y2={1297} stroke="#b5b5b5" strokeWidth={1} strokeDasharray="3 3" />
      <path d={metricArea(rankMetric as any) as string} fill="#bcc3c3" />
      {metricTicks.map((t) => (
        <Txt key={t} x={80} y={yMetric(t) + 5} size={14} fill={grey} anchor="end">{t.toFixed(1)}</Txt>
      ))}
      <Txt x={92} y={1143} size={12.5} weight="normal" fill="#f26a88" len={220}>'STEAP1_high' (positively correlated)</Txt>
      <Txt x={370} y={1292} size={12.5} weight="normal" fill="#7a88e4" len={220}>'STEAP1_low' (negatively correlated)</Txt>
      <Txt x={333} y={1217} size={11.5} weight="normal" fill="#555" anchor="middle" len={103}>Zero cross at 5896</Txt>
      <Txt x={43} y={1213} size={16} weight="normal" fill="#555" anchor="middle" rotate={-90} len={234}>Ranked list metric (Signal2Noise)</Txt>
      {rankTicks.map((t) => (
        <Txt key={t} x={x(t)} y={1318} size={14} fill={grey} anchor="middle">{d3.format(",")(t)}</Txt>
      ))}
      <Txt x={369} y={1340} size={16} weight="normal" fill="#333" anchor="middle" len={176}>Rank in Ordered Dataset</Txt>
      <rect x={117} y={1355} width={440} height={30} fill="#f5f7f6" stroke="#333" strokeWidth={1.5} />
      <line x1={121} x2={142} y1={1370} y2={1370} stroke="#86e03a" strokeWidth={2.5} />
      <Txt x={146} y={1375} size={15} weight="normal" fill="#333" len={128}>Enrichment profile</Txt>
      <line x1={282} x2={301} y1={1370} y2={1370} stroke="#555" strokeWidth={1.5} />
      <Txt x={305} y={1375} size={15} weight="normal" fill="#333" len={28}>Hits</Txt>
      <line x1={368} x2={391} y1={1370} y2={1370} stroke="#ddd" strokeWidth={1.5} />
      <Txt x={395} y={1375} size={15} weight="normal" fill="#333" len={157}>Ranking metric scores</Txt>
    </g>
  );
}

function Heatmap() {
  const x = d3.scaleBand<number>().domain(d3.range(90)).range([665, 2050]);
  const y = d3.scaleBand<number>().domain(d3.range(genes.length)).range([740, 1631]);
  return (
    <g>
      {heatRows.map((row, r) =>
        row.split("").map((c, i) => (
          <rect key={`${r}-${i}`} x={x(i)} y={y(r)} width={x.bandwidth()} height={y.bandwidth()} fill={heatColors[+c]} stroke="#222838" strokeWidth={1.6} />
        ))
      )}
      {genes.map((g, r) => (
        <g key={g}>
          {r < genes.length - 1 && <line x1={2050} x2={2138} y1={(y(r) as number) + y.bandwidth()} y2={(y(r) as number) + y.bandwidth()} stroke="#555" strokeWidth={1.5} />}
          <text transform={`translate(2061,${(y(r) as number) + 14}) scale(0.78,1)`} fontFamily={FONT} fontSize={15} fill="#333">{g}</text>
        </g>
      ))}
      <line x1={650} x2={1349} y1={1648} y2={1644} stroke="#f40c0c" strokeWidth={8} />
      <line x1={1363} x2={2063} y1={1642} y2={1640} stroke="#1010e6" strokeWidth={8} />
      <Txt x={901} y={1693} size={38} fill="#ee1111" len={227}>High <tspan fontStyle="italic">STEAP1</tspan></Txt>
      <Txt x={1633} y={1693} size={38} fill="#1515dd" len={220}>Low <tspan fontStyle="italic">STEAP1</tspan></Txt>
    </g>
  );
}

function Scatter({ points, title, titleX, titleY, box, xDomain, xRange, yDomain, yRange, xTicks, yTicks, tickFmt, yTickRight, yLabelX, xLabelX, xLabelLen, xLabel, pX, pY, rY, r, rText, gridColor, gridWidth }: any) {
  const x = d3.scaleLinear().domain(xDomain).range(xRange);
  const y = d3.scaleLinear().domain(yDomain).range(yRange);
  const fmt = d3.format(tickFmt);
  return (
    <g>
      <Txt x={titleX} y={titleY} size={35} fill="#222" anchor="middle">{title}</Txt>
      {xTicks.map((t: number) => <line key={t} x1={x(t)} x2={x(t)} y1={box[1]} y2={box[3] + 6} stroke={gridColor} strokeWidth={gridWidth} />)}
      {yTicks.map((t: number) => <line key={t} x1={box[0] - 6} x2={box[2]} y1={y(t)} y2={y(t)} stroke={gridColor} strokeWidth={gridWidth} />)}
      <rect x={box[0]} y={box[1]} width={box[2] - box[0]} height={box[3] - box[1]} fill="none" stroke="#222" strokeWidth={2.5} />
      {points.map((d: number[], i: number) => <circle key={i} cx={x(d[0])} cy={y(d[1])} r={r} fill="#111" />)}
      {xTicks.map((t: number) => <Txt key={t} x={x(t) + 2} y={2363} size={34} fill="#222" anchor="middle">{fmt(t)}</Txt>)}
      {yTicks.map((t: number) => <Txt key={t} x={yTickRight} y={y(t) + 14} size={34} fill="#222" anchor="end">{fmt(t)}</Txt>)}
      <Txt x={yLabelX} y={2379} size={36} fill="#222" rotate={-90} len={590}>Relative gene expression of <tspan fontStyle="italic">c-Myc</tspan></Txt>
      <Txt x={xLabelX} y={2398} size={33} fill="#222" len={xLabelLen}>Relative gene expression of <tspan fontStyle="italic">{xLabel}</tspan></Txt>
      <Txt x={pX} y={pY} size={35} fill="#222">P&lt;0.01</Txt>
      <Txt x={pX} y={rY} size={35} fill="#222">{rText}</Txt>
    </g>
  );
}

export default function App() {
  return (
    <svg width={2150} height={2419} style={{ position: "absolute", left: 0, top: 0, background: "#fff" }}>
      <Txt x={22} y={44} size={40}>A</Txt>
      <Txt x={1140} y={44} size={40}>B</Txt>
      <Txt x={22} y={728} size={40}>C</Txt>
      <Txt x={666} y={728} size={40}>D</Txt>
      <Txt x={42} y={1763} size={40}>E</Txt>
      <Txt x={738} y={1763} size={40}>F</Txt>
      <Txt x={1473} y={1763} size={40}>G</Txt>
      <Volcano />
      <NesBars />
      <Enrichment />
      <Heatmap />
      <Scatter points={gse14520} title="GSE14520" titleX={424} titleY={1815} box={[165, 1840, 690, 2313]}
        xDomain={[1.5, 3]} xRange={[178.4, 592.7]} yDomain={[2, 3.5]} yRange={[2279, 1867]}
        xTicks={[1.5, 2, 2.5, 3]} yTicks={[2, 2.5, 3, 3.5]} tickFmt=".1f" yTickRight={144}
        yLabelX={85} xLabelX={115} xLabelLen={609} xLabel="STEAP1" pX={546} pY={2237} rY={2300} rText="R=0.328" r={3.4} gridColor="#d6dfdf" gridWidth={2} />
      <Scatter points={gse36376} title="GSE36376" titleX={1139} titleY={1809} box={[870, 1840, 1395, 2313]}
        xDomain={[2.6, 3]} xRange={[879, 1306]} yDomain={[2.8, 3.4]} yRange={[2213.5, 1883.6]}
        xTicks={[2.6, 2.7, 2.8, 2.9, 3]} yTicks={[2.8, 3, 3.2, 3.4]} tickFmt=".1f" yTickRight={843}
        yLabelX={790} xLabelX={821} xLabelLen={623} xLabel="STEAP1" pX={1255} pY={2237} rY={2300} rText="R=0.543" r={3.4} gridColor="#d6dfdf" gridWidth={2} />
      <Scatter points={tcga} title="TCGA" titleX={1831} titleY={1801} box={[1585, 1835, 2090, 2320]}
        xDomain={[0, 6]} xRange={[1603, 2024]} yDomain={[2, 6]} yRange={[2203.7, 1955]}
        xTicks={[0, 1, 2, 3, 4, 5, 6]} yTicks={[2, 4, 6]} tickFmt="d" yTickRight={1559}
        yLabelX={1518} xLabelX={1528} xLabelLen={607} xLabel="STEAP" pX={1963} pY={2203} rY={2266} rText="R=0.26" r={3.6} gridColor="#c2c6c6" gridWidth={3} />
    </svg>
  );
}
